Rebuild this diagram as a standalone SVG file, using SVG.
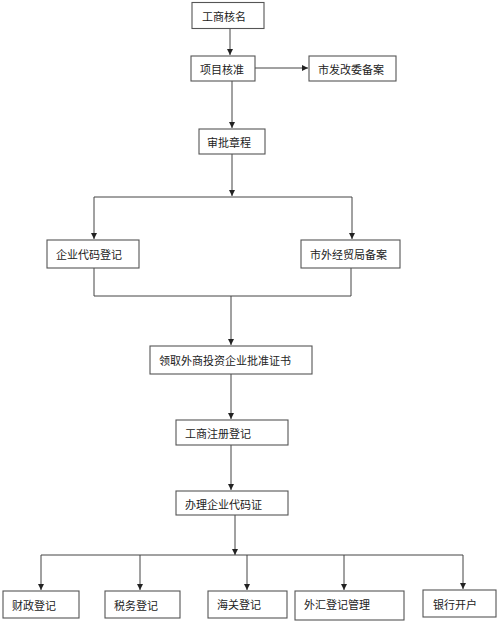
<svg xmlns="http://www.w3.org/2000/svg" width="500" height="622" viewBox="0 0 500 622">
<defs>
<style>
.box{fill:#fff;stroke:#555;stroke-width:1.1}
.t{font-family:"Noto Sans CJK SC","Noto Sans",sans-serif;font-size:11px;fill:#222;dominant-baseline:central}
.c{fill:none;stroke:#444;stroke-width:1}
</style>
<marker id="ah" viewBox="0 0 10 10" refX="10" refY="5" markerWidth="6" markerHeight="6" markerUnits="userSpaceOnUse" orient="auto">
<path d="M0,0 L10,5 L0,10 z" fill="#222"/>
</marker>
</defs>
<rect width="500" height="622" fill="#fff"/>
<g id="connectors">
<path class="c" d="M230,28 V55" marker-end="url(#ah)"/>
<path class="c" d="M255,68 H308" marker-end="url(#ah)"/>
<path class="c" d="M232,81 V128" marker-end="url(#ah)"/>
<path class="c" d="M232,154 V196" marker-end="url(#ah)"/>
<path class="c" d="M94,197 H352"/>
<path class="c" d="M94,197 V239" marker-end="url(#ah)"/>
<path class="c" d="M352,197 V239" marker-end="url(#ah)"/>
<path class="c" d="M94,268 V296 H351 V268"/>
<path class="c" d="M231,296 V345" marker-end="url(#ah)"/>
<path class="c" d="M231,374 V419" marker-end="url(#ah)"/>
<path class="c" d="M231,445 V490" marker-end="url(#ah)"/>
<path class="c" d="M235,515 V555" marker-end="url(#ah)"/>
<path class="c" d="M41,555 H463"/>
<path class="c" d="M41,555 V590" marker-end="url(#ah)"/>
<path class="c" d="M140,555 V590" marker-end="url(#ah)"/>
<path class="c" d="M247,555 V590" marker-end="url(#ah)"/>
<path class="c" d="M344,555 V590" marker-end="url(#ah)"/>
<path class="c" d="M463,555 V589" marker-end="url(#ah)"/>
</g>
<g id="n1"><rect class="box" x="192" y="2.5" width="72" height="26"/><text class="t" x="202" y="16">工商核名</text></g>
<g id="n2"><rect class="box" x="191" y="56" width="64" height="25"/><text class="t" x="200" y="69">项目核准</text></g>
<g id="n3"><rect class="box" x="309" y="56" width="87" height="25"/><text class="t" x="318" y="69">市发改委备案</text></g>
<g id="n4"><rect class="box" x="199" y="129" width="66" height="25"/><text class="t" x="207" y="142">审批章程</text></g>
<g id="n5"><rect class="box" x="47" y="240" width="92" height="28"/><text class="t" x="56" y="254">企业代码登记</text></g>
<g id="n6"><rect class="box" x="301" y="240" width="99" height="28"/><text class="t" x="310" y="254">市外经贸局备案</text></g>
<g id="n7"><rect class="box" x="150" y="346" width="162" height="28"/><text class="t" x="159" y="360">领取外商投资企业批准证书</text></g>
<g id="n8"><rect class="box" x="176" y="420" width="112" height="25"/><text class="t" x="185" y="433">工商注册登记</text></g>
<g id="n9"><rect class="box" x="176" y="491" width="112" height="24"/><text class="t" x="185" y="504">办理企业代码证</text></g>
<g id="n10"><rect class="box" x="3" y="591" width="76" height="27"/><text class="t" x="12" y="605">财政登记</text></g>
<g id="n11"><rect class="box" x="105" y="591" width="75" height="27"/><text class="t" x="114" y="605">税务登记</text></g>
<g id="n12"><rect class="box" x="208" y="591" width="79" height="27"/><text class="t" x="217" y="604">海关登记</text></g>
<g id="n13"><rect class="box" x="295" y="591" width="109" height="29"/><text class="t" x="304" y="604">外汇登记管理</text></g>
<g id="n14"><rect class="box" x="423" y="590" width="73" height="27"/><text class="t" x="433" y="604">银行开户</text></g>
</svg>
